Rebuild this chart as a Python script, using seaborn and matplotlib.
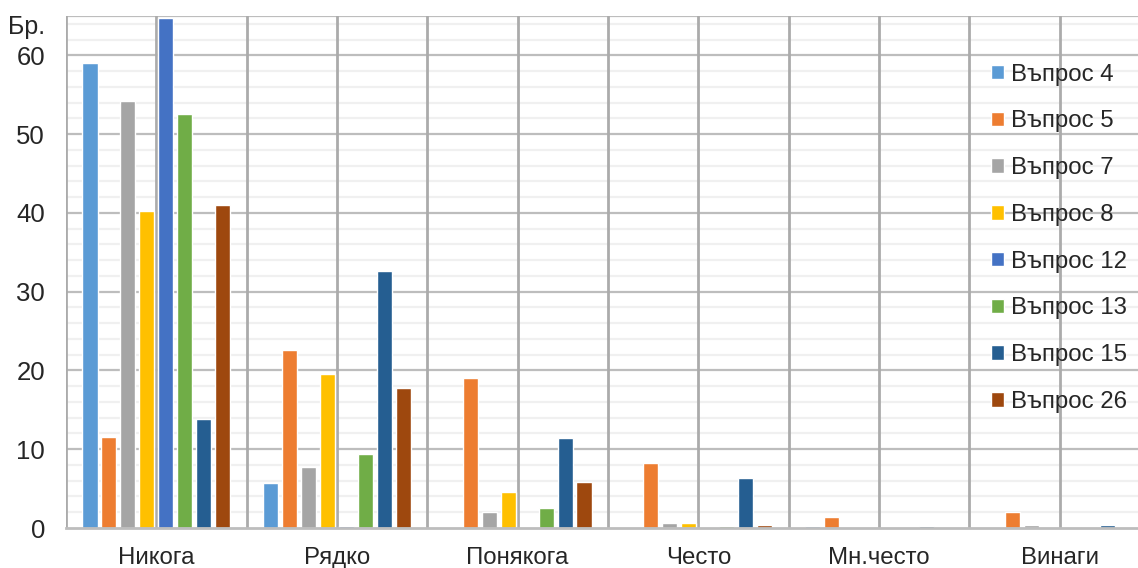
import pandas as pd
import matplotlib.pyplot as plt
import seaborn as sns

categories = ["Никога", "Рядко", "Понякога", "Често", "Мн.често", "Винаги"]
series = ["Въпрос 4", "Въпрос 5", "Въпрос 7", "Въпрос 8",
          "Въпрос 12", "Въпрос 13", "Въпрос 15", "Въпрос 26"]
colors = ["#5B9BD5", "#ED7D31", "#A5A5A5", "#FFC000",
          "#4472C4", "#70AD47", "#255E91", "#9E480E"]

q4 = [59.0, 5.7, 0.0, 0.0, 0.2, 0.0]
q5 = [11.6, 22.6, 19.0, 8.3, 1.4, 2.0]
q7 = [54.2, 7.8, 2.0, 0.6, 0.0, 0.4]
q8 = [40.2, 19.6, 4.6, 0.6, 0.0, 0.0]
q12 = [64.8, 0.2, 0.0, 0.0, 0.0, 0.0]
q13 = [52.6, 9.4, 2.6, 0.2, 0.0, 0.1]
q15 = [13.9, 32.6, 11.4, 6.3, 0.2, 0.4]
q26 = [41.0, 17.8, 5.9, 0.4, 0.0, 0.0]

values = [q4, q5, q7, q8, q12, q13, q15, q26]
rows = []
for name, vals in zip(series, values):
    for cat, v in zip(categories, vals):
        rows.append([cat, name, v])
df = pd.DataFrame(rows, columns=["cat", "series", "val"])

sns.set_style("white")
plt.rcParams['font.family'] = ['Liberation Sans', 'DejaVu Sans']

fig = plt.figure(figsize=(11.38, 5.68), dpi=100)
ax = fig.add_axes([66 / 1138, 1 - 528 / 568, (1150 - 66) / 1138, (528 - 16) / 568])

# light minor grid every 2, major every 10
for y in range(2, 65, 2):
    if y % 10 != 0:
        ax.axhline(y, color="#F0F0F0", lw=1.6, zorder=0)
for y in range(10, 70, 10):
    ax.axhline(y, color="#BDBDBD", lw=1.6, zorder=0)
ax.axhline(65, color="#BDBDBD", lw=1.6, zorder=0)
for i in range(len(categories) + 1):
    ax.axvline(i - 0.5, color="#ABABAB", lw=2, zorder=0)
    if i < len(categories):
        ax.axvline(i, color="#ABABAB", lw=2, zorder=0)

sns.barplot(data=df, x="cat", y="val", hue="series", palette=colors,
            saturation=1, width=0.84, gap=0.2, ax=ax, zorder=2, legend=True)

ax.set_ylim(0, 65)
ax.set_xlim(-0.5, len(categories) - 0.5)
ax.set_yticks(range(0, 70, 10))
ax.set_xlabel("")
ax.set_ylabel("")
ax.tick_params(axis="both", length=0, colors="#262626")
ax.tick_params(axis="x", labelsize=17.3, pad=14)
ax.tick_params(axis="y", labelsize=18.5, pad=15)
for s in ["top", "right", "left"]:
    ax.spines[s].set_visible(False)
ax.spines["bottom"].set_color("#BDBDBD")
ax.spines["bottom"].set_linewidth(2)

fig.text(8 / 1138, 1 - 27 / 568, "Бр.", fontsize=18, color="#262626", va="center")

handles, labels = ax.get_legend_handles_labels()
ax.get_legend().remove()
fig.legend(handles, labels, loc="upper left", bbox_to_anchor=(969 / 1138, 1 - 42 / 568),
           frameon=False, fontsize=17.3, handlelength=0.55, handleheight=0.55,
           handletextpad=0.3, labelspacing=1.03, labelcolor="#262626")

plt.savefig("out.png", dpi=100)
plt.close("all")
